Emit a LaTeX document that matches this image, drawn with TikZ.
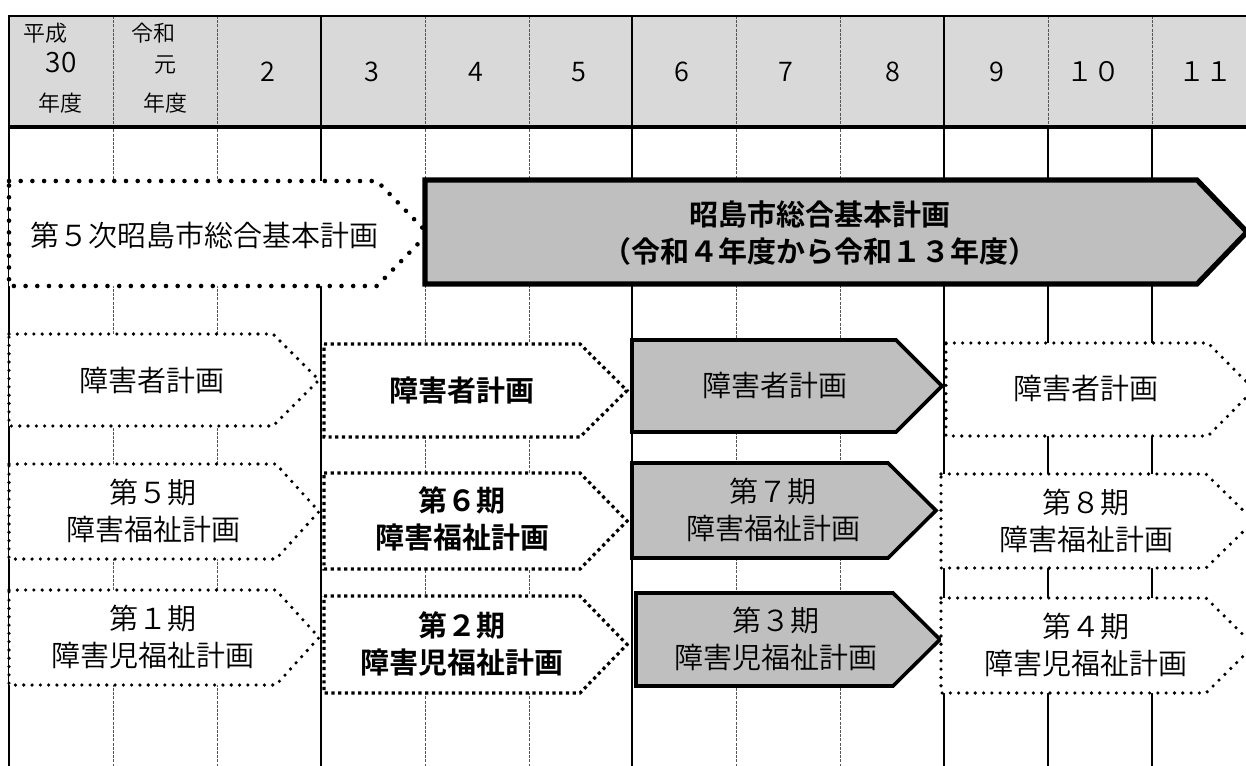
\documentclass[tikz,border=0pt]{standalone}
\usepackage{fontspec}
\setmainfont{Noto Sans CJK JP DemiLight}[BoldFont={Noto Sans CJK JP Bold}]
\usepackage{xcolor}
\definecolor{HeadGray}{HTML}{D9D9D9}
\definecolor{PlanGray}{HTML}{BFBFBF}
\definecolor{GridGray}{HTML}{555555}

\tikzset{
  grid solid/.style={black,line width=1pt},
  grid dashed/.style={GridGray,line width=0.5pt,dash pattern=on 1.5pt off 0.6pt},
  plan old/.style={fill=white,line width=2.3pt,line cap=round,dash pattern=on 0pt off 5.85pt},
  plan prev/.style={fill=white,line width=1.8pt,line cap=round,dash pattern=on 0pt off 4.15pt},
  plan now/.style={fill=white,line width=1.6pt,dash pattern=on 1.6pt off 1.75pt},
  plan next/.style={fill=white,line width=1.8pt,line cap=round,dash pattern=on 0pt off 4.15pt},
  plan main/.style={fill=PlanGray,line width=2.6pt,line join=miter},
  plan cur/.style={fill=PlanGray,line width=1.8pt,line join=miter},
  plan text/.style={align=center,inner sep=0pt,font=\fontsize{14.5}{18.5}\selectfont},
  plan bold/.style={align=center,inner sep=0pt,font=\fontsize{14.5}{18.5}\selectfont\bfseries},
  year text/.style={inner sep=0pt,font=\fontsize{13.5}{15}\selectfont},
  era text/.style={inner sep=0pt,font=\fontsize{11}{13}\selectfont}
}

% style, left, top, tip start, tip, bottom
\newcommand{\PlanShape}[6]{%
  \draw[#1] (#2,#3) -- (#4,#3) -- (#5,{(#3+#6)/2}) -- (#4,#6) -- (#2,#6) -- cycle;}

\begin{document}
\begin{tikzpicture}[x=0.5pt,y=-0.5pt]
   \useasboundingbox (0,0) rectangle (1246,765);
   \clip (0,0) rectangle (1246,765);

   % header row
   \fill[HeadGray] (9,16) rectangle (1260,127);
   \draw[grid dashed] (113,16) -- (113,770) (217,16) -- (217,770)
     (425,16) -- (425,770) (529,16) -- (529,770)
     (736,16) -- (736,770) (840,16) -- (840,770)
     (1048,16) -- (1048,127) (1152,16) -- (1152,127);
   \draw[grid solid] (321,16) -- (321,770) (632,16) -- (632,770)
     (944,16) -- (944,770) (1048,127) -- (1048,770) (1152,127) -- (1152,770);
   \draw[line width=1pt] (1260,16) -- (9,16) -- (9,770);
   \draw[line width=2pt] (9,127) -- (1260,127);

   \node[era text] (h30a) at (46,33) {平成};
   \node[inner sep=0pt,font=\fontsize{14}{16}\selectfont] (h30b) at (61,63) {30};
   \node[era text] (h30c) at (60,103) {年度};
   \node[era text] (r1a) at (153,33) {令和};
   \node[era text] (r1b) at (165,65) {元};
   \node[era text] (r1c) at (165,103) {年度};
   \node[year text] (r2) at (268,72) {2};
   \node[year text] (r3) at (372,72) {3};
   \node[year text] (r4) at (476,72) {4};
   \node[year text] (r5) at (579,72) {5};
   \node[year text] (r6) at (682,72) {6};
   \node[year text] (r7) at (786,72) {7};
   \node[year text] (r8) at (893,72) {8};
   \node[year text] (r9) at (997,72) {9};
   \node[year text] (r10) at (1093,72) {１０};
   \node[year text] (r11) at (1205,72) {１１};

   % general plan
   \PlanShape{plan old}{9}{181}{377}{428}{286}
   \node[plan text] (kihon5) at (204,235) {第５次昭島市総合基本計画};
   \PlanShape{plan main}{425}{180}{1197}{1247}{284}
   \node[plan bold] (kihon) at (820,233) {昭島市総合基本計画\\（令和４年度から令和１３年度）};

   % disability plans
   \PlanShape{plan prev}{9}{334}{273}{319}{426}
   \node[plan text] (sha1) at (152,380) {障害者計画};
   \PlanShape{plan now}{324}{344}{580}{627}{437}
   \node[plan bold] (sha2) at (462,390) {障害者計画};
   \PlanShape{plan cur}{632}{340}{896}{942}{432}
   \node[plan text] (sha3) at (775,385) {障害者計画};
   \PlanShape{plan next}{946}{343}{1208}{1254}{436}
   \node[plan text] (sha4) at (1086,388) {障害者計画};

   % welfare plans
   \PlanShape{plan prev}{9}{464}{276}{319}{559}
   \node[plan text] (fuku5) at (153,511) {第５期\\障害福祉計画};
   \PlanShape{plan now}{324}{473}{580}{627}{569}
   \node[plan bold] (fuku6) at (462,519) {第６期\\障害福祉計画};
   \PlanShape{plan cur}{632}{463}{888}{936}{558}
   \node[plan text] (fuku7) at (773,510) {第７期\\障害福祉計画};
   \PlanShape{plan next}{941}{474}{1206}{1254}{568}
   \node[plan text] (fuku8) at (1086,521) {第８期\\障害福祉計画};

   % child welfare plans
   \PlanShape{plan prev}{9}{590}{276}{319}{685}
   \node[plan text] (jido1) at (153,637) {第１期\\障害児福祉計画};
   \PlanShape{plan now}{324}{596}{580}{627}{693}
   \node[plan bold] (jido2) at (462,644) {第２期\\障害児福祉計画};
   \PlanShape{plan cur}{636}{593}{893}{940}{686}
   \node[plan text] (jido3) at (776,639) {第３期\\障害児福祉計画};
   \PlanShape{plan next}{941}{598}{1206}{1254}{693}
   \node[plan text] (jido4) at (1086,645) {第４期\\障害児福祉計画};
\end{tikzpicture}
\end{document}
